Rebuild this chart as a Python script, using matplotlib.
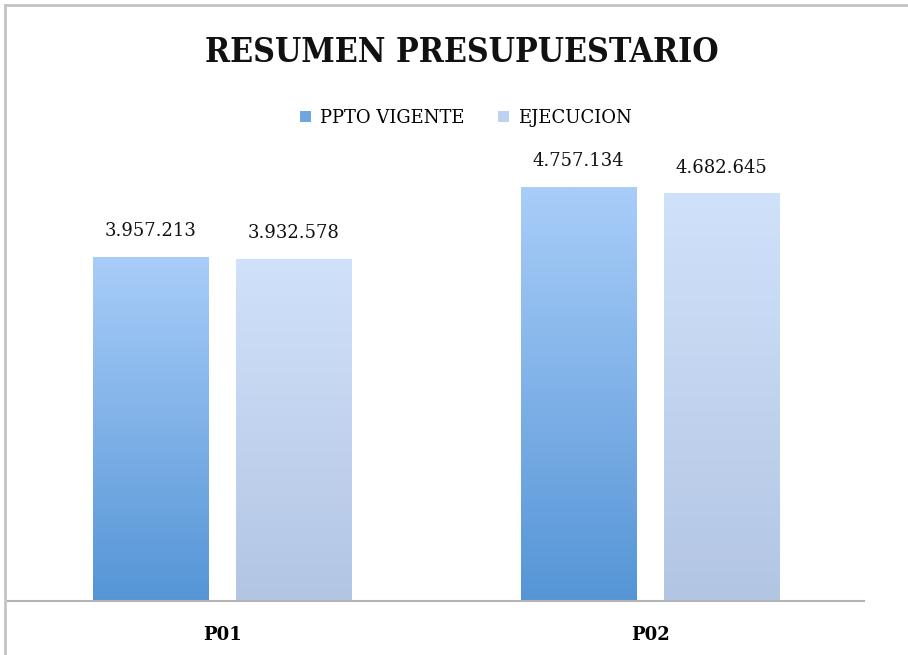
import numpy as np
import matplotlib.pyplot as plt
from matplotlib.colors import LinearSegmentedColormap
from matplotlib.patches import Patch
from matplotlib.lines import Line2D

# data
categorias = ["P01", "P02"]
ppto_vigente = [3957213, 4757134]
ejecucion = [3932578, 4682645]
series = ["PPTO VIGENTE", "EJECUCION"]

def fmt(v):
    return f"{v:,}".replace(",", ".")

plt.rcParams['font.family'] = ['DejaVu Serif']

W, H = 908, 655
fig = plt.figure(figsize=(W / 100, H / 100), dpi=100)
fig.patch.set_facecolor("white")

# axes placed in pixel coords
left, right, bottom, top = 8, 864, 601, 140
ax = fig.add_axes([left / W, 1 - bottom / H, (right - left) / W, (bottom - top) / H])

x = np.arange(len(categorias))
w = 0.2687
off = 0.167

grad = {
    "PPTO VIGENTE": ("#5595d6", "#a9cdf9"),
    "EJECUCION": ("#b2c5e3", "#d0e2fa"),
}

for vals, name, dx in [(ppto_vigente, series[0], -off), (ejecucion, series[1], off)]:
    bars = ax.bar(x + dx, vals, w, color="none", edgecolor="none")
    cmap = LinearSegmentedColormap.from_list(name, grad[name])
    for b, v in zip(bars, vals):
        x0, y0 = b.get_x(), b.get_y()
        x1, y1 = x0 + b.get_width(), y0 + b.get_height()
        img = ax.imshow(np.linspace(0, 1, 256).reshape(-1, 1), cmap=cmap,
                        extent=[x0, x1, y0, y1], origin="lower", aspect="auto",
                        zorder=2)
        img.set_clip_path(b)
        ax.annotate(fmt(v), (b.get_x() + b.get_width() / 2, y1),
                    xytext=(0, 12), textcoords="offset points",
                    ha="center", va="bottom", fontsize=13, color="#111111")

ax.set_xlim(-0.5, 1.5)
ax.set_ylim(0, 4757134 * (bottom - top) / 414)

for s in ["top", "right", "left"]:
    ax.spines[s].set_visible(False)
ax.spines["bottom"].set_color("#b4b4b4")
ax.spines["bottom"].set_linewidth(1.5)
ax.set_yticks([])
ax.set_xticks(x)
ax.set_xticklabels(categorias, fontweight="bold", fontsize=13)
ax.tick_params(axis="x", length=0, pad=18)

fig.text(462 / W, 1 - 53 / H, "RESUMEN PRESUPUESTARIO", ha="center", va="center",
         fontsize=24.2, fontweight="bold", fontstretch="condensed", color="#111111")

handles = [Patch(facecolor="#6fa6e2", edgecolor="none"),
           Patch(facecolor="#bdd2f0", edgecolor="none")]
fig.legend(handles, series, loc="center", bbox_to_anchor=(466 / W, 1 - 118 / H),
           ncol=2, frameon=False, fontsize=13, handlelength=0.6, handleheight=0.6,
           handletextpad=0.5, columnspacing=1.85)

# figure border (left and top)
fig.add_artist(Line2D([5 / W, 5 / W], [0, 1 - 5 / H], color="#c4c4c4", lw=2))
fig.add_artist(Line2D([5 / W, 1], [1 - 5 / H, 1 - 5 / H], color="#c4c4c4", lw=2))

fig.savefig("out.png", dpi=100)
